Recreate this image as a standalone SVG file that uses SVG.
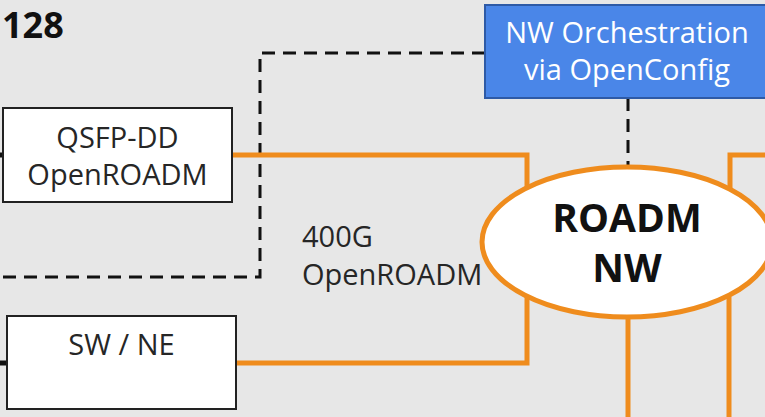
<svg xmlns="http://www.w3.org/2000/svg" width="765" height="417" viewBox="0 0 765 417">
<style>
.t{font-family:"Open Sans","Noto Sans",sans-serif;font-size:29px;fill:#262626}
.b{font-family:"Open Sans","Noto Sans",sans-serif;font-weight:bold;fill:#111}
.box{fill:#fff;stroke:#222;stroke-width:2}
.or{fill:none;stroke:#ef8c1d;stroke-width:5}
.da{fill:none;stroke:#111;stroke-width:3;stroke-dasharray:13 8}
.bk{fill:none;stroke:#111;stroke-width:5}
</style>
<rect width="765" height="417" fill="#e7e7e7"/>
<text class="b" x="2" y="38" font-size="36">128</text>
<g id="connectors">
<path class="da" d="M485 53 H260 V277 H0"/>
<path class="da" d="M628 98 V167"/>
<path class="or" d="M232 155 H527 V195"/>
<path class="or" d="M236 363 H527 V292"/>
<path class="or" d="M628 315 V417"/>
<path class="or" d="M729 297 V417"/>
<path class="or" d="M730 195 V155 H765"/>
<path class="bk" d="M0 155 H4"/>
<path class="bk" d="M0 363 H8"/>
</g>
<g id="orchestration">
<rect x="485" y="5" width="290" height="93" fill="#4a86e8" stroke="#2e5aa6" stroke-width="2"/>
<text class="t" x="627" y="43" text-anchor="middle" style="fill:#fff">NW Orchestration</text>
<text class="t" x="627" y="80" text-anchor="middle" style="fill:#fff">via OpenConfig</text>
</g>
<g id="qsfp">
<rect class="box" x="3" y="108" width="229" height="94"/>
<text class="t" x="117.5" y="148" text-anchor="middle">QSFP-DD</text>
<text class="t" x="117.5" y="185" text-anchor="middle">OpenROADM</text>
</g>
<g id="swne">
<rect class="box" x="7" y="316" width="229" height="93"/>
<text class="t" x="121.5" y="355" text-anchor="middle">SW / NE</text>
</g>
<g id="label400g">
<text class="t" x="302" y="247">400G</text>
<text class="t" x="302" y="285">OpenROADM</text>
</g>
<g id="roadm">
<ellipse cx="627" cy="242" rx="145" ry="75" fill="#fff" stroke="#ef8c1d" stroke-width="5"/>
<text class="b" x="627" y="232" font-size="39" text-anchor="middle">ROADM</text>
<text class="b" x="627" y="282" font-size="39" text-anchor="middle">NW</text>
</g>
</svg>
